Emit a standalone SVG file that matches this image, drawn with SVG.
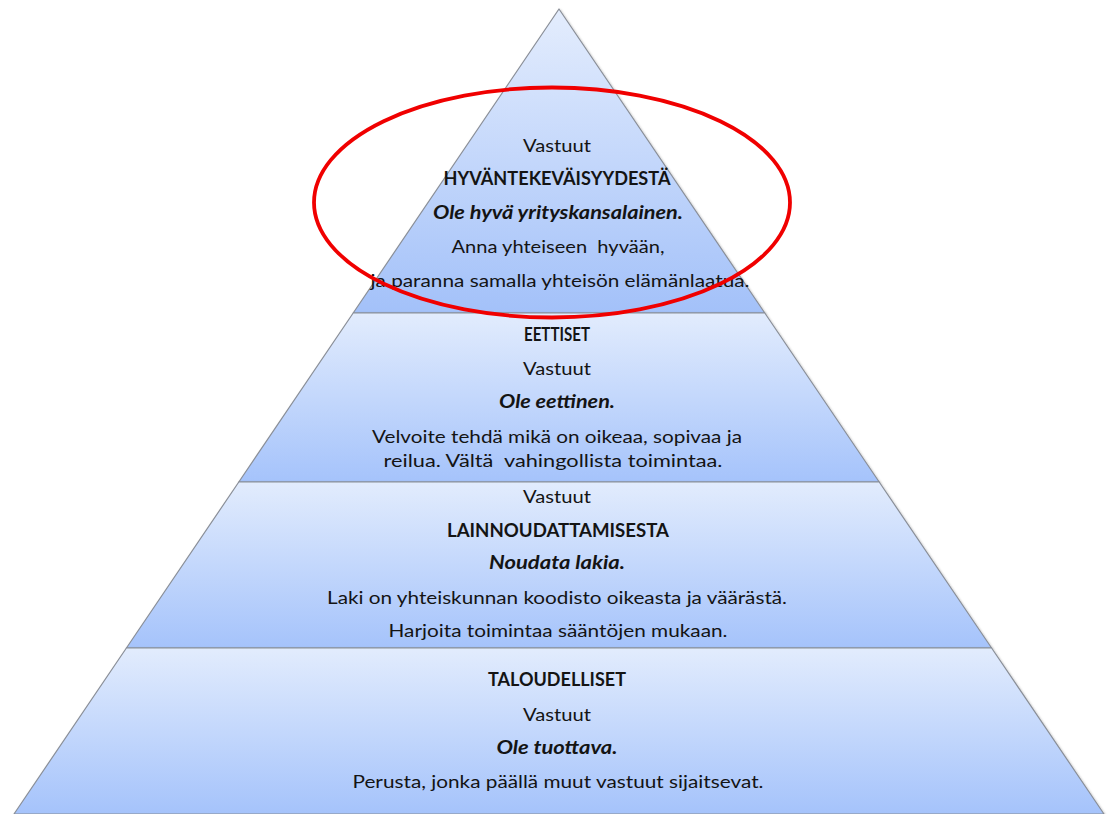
<svg xmlns="http://www.w3.org/2000/svg" width="1110" height="814" viewBox="0 0 1110 814">
<defs>
<linearGradient id="lay" x1="0" y1="0" x2="0" y2="1">
<stop offset="0" stop-color="#e2ecfd"/>
<stop offset="1" stop-color="#a5c3fb"/>
</linearGradient>
<linearGradient id="top" x1="0" y1="0" x2="0" y2="1">
<stop offset="0" stop-color="#e4edfd"/>
<stop offset="1" stop-color="#a3c1f9"/>
</linearGradient>
<filter id="sh" x="-5%" y="-5%" width="110%" height="110%">
<feDropShadow dx="1" dy="1" stdDeviation="1" flood-color="#000" flood-opacity="0.25"/>
</filter>
</defs>
<style>
.layer{stroke:#8a8f98;stroke-width:1.2;stroke-linejoin:round}
text{font-family:Lato,"Liberation Sans",sans-serif;font-size:18px;fill:#141414;text-anchor:middle}
.b{font-weight:bold}
.bi{font-weight:bold;font-style:italic}
</style>
<rect width="1110" height="814" fill="#ffffff"/>
<g id="layer-hyvantekevaisyys">
<polygon class="layer" fill="url(#top)" filter="url(#sh)" points="559,9 764.8,313 353.2,313"/>
<text x="557" y="152" textLength="68" lengthAdjust="spacingAndGlyphs">Vastuut</text>
<text class="b" x="557" y="185" textLength="227" lengthAdjust="spacingAndGlyphs">HYVÄNTEKEVÄISYYDESTÄ</text>
<text class="bi" x="558" y="219" textLength="250" lengthAdjust="spacingAndGlyphs">Ole hyvä yrityskansalainen.</text>
<text x="558" y="253" textLength="213" lengthAdjust="spacingAndGlyphs" xml:space="preserve">Anna yhteiseen  hyvään,</text>
<text x="560" y="287" textLength="379" lengthAdjust="spacingAndGlyphs">ja paranna samalla yhteisön elämänlaatua.</text>
</g>
<g id="layer-eettiset">
<polygon class="layer" fill="url(#lay)" filter="url(#sh)" points="353.2,313 764.8,313 879.2,482 238.8,482"/>
<text class="b" x="557" y="341" textLength="66" lengthAdjust="spacingAndGlyphs">EETTISET</text>
<text x="557" y="375" textLength="68" lengthAdjust="spacingAndGlyphs">Vastuut</text>
<text class="bi" x="557" y="408" textLength="116" lengthAdjust="spacingAndGlyphs">Ole eettinen.</text>
<text x="557" y="443" textLength="370" lengthAdjust="spacingAndGlyphs">Velvoite tehdä mikä on oikeaa, sopivaa ja</text>
<text x="553" y="467" textLength="339" lengthAdjust="spacingAndGlyphs" xml:space="preserve">reilua. Vältä  vahingollista toimintaa.</text>
</g>
<g id="layer-lainnoudattaminen">
<polygon class="layer" fill="url(#lay)" filter="url(#sh)" points="238.8,482 879.2,482 991.6,648 126.4,648"/>
<text x="557" y="503" textLength="68" lengthAdjust="spacingAndGlyphs">Vastuut</text>
<text class="b" x="558" y="537" textLength="222" lengthAdjust="spacingAndGlyphs">LAINNOUDATTAMISESTA</text>
<text class="bi" x="557" y="569" textLength="136" lengthAdjust="spacingAndGlyphs">Noudata lakia.</text>
<text x="557" y="604" textLength="460" lengthAdjust="spacingAndGlyphs">Laki on yhteiskunnan koodisto oikeasta ja väärästä.</text>
<text x="558" y="637" textLength="339" lengthAdjust="spacingAndGlyphs">Harjoita toimintaa sääntöjen mukaan.</text>
</g>
<g id="layer-taloudelliset">
<polygon class="layer" fill="url(#lay)" filter="url(#sh)" points="126.4,648 991.6,648 1104,814 14,814"/>
<text class="b" x="557" y="686" textLength="138" lengthAdjust="spacingAndGlyphs">TALOUDELLISET</text>
<text x="557" y="721" textLength="68" lengthAdjust="spacingAndGlyphs">Vastuut</text>
<text class="bi" x="557" y="754" textLength="121" lengthAdjust="spacingAndGlyphs">Ole tuottava.</text>
<text x="558" y="788" textLength="411" lengthAdjust="spacingAndGlyphs">Perusta, jonka päällä muut vastuut sijaitsevat.</text>
</g>
<g id="highlight">
<ellipse cx="552" cy="202.5" rx="238" ry="115" fill="none" stroke="#f00000" stroke-width="3.8"/>
</g>
<g id="connectors"/>
</svg>
